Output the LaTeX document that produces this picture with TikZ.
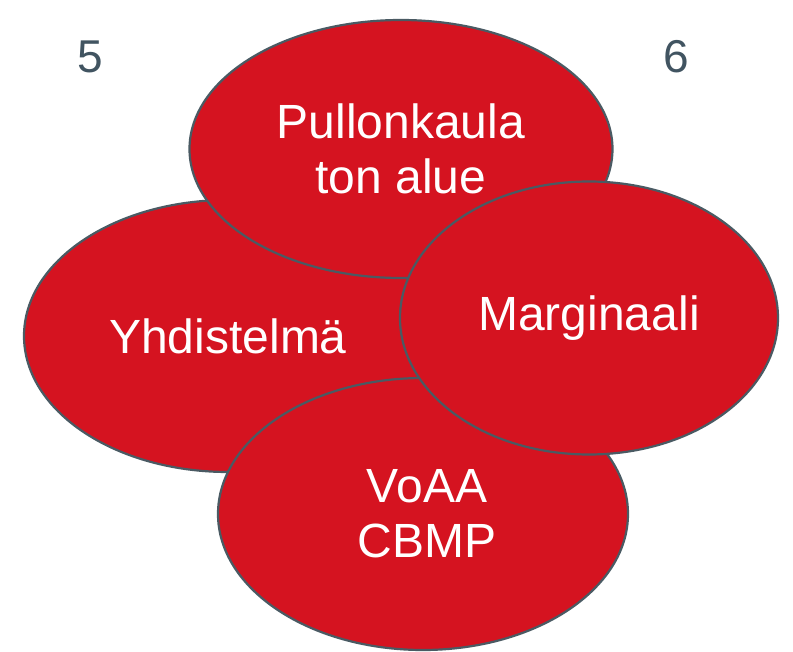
\documentclass[tikz,border=0pt]{standalone}
\usepackage{fontspec}
\setmainfont{Liberation Sans}
\usetikzlibrary{shapes.geometric}
\definecolor{bubblered}{HTML}{D51320}
\definecolor{bubbleline}{HTML}{4A5A63}
\definecolor{cornertext}{HTML}{415461}
\tikzset{
  bubble/.style = {
    ellipse,
    draw=bubbleline,
    fill=bubblered,
    line width=2.2pt,
    inner sep=0pt,
    align=center,
    text=white,
    font=\fontsize{48}{55}\selectfont
  },
  cornernum/.style = {
    text=cornertext,
    font=\fontsize{46}{55}\selectfont
  }
}

\begin{document}
\begin{tikzpicture}[x=1pt,y=-1pt]
    \useasboundingbox (0,0) rectangle (793,652);
    \node[bubble, minimum width=408pt, minimum height=272pt] (combo) at (228,336) {Yhdistelm\"a};
    \node[bubble, minimum width=423pt, minimum height=258pt] (bottleneck) at (401,149) {Pullonkaula\\ton alue};
    \node[bubble, minimum width=410pt, minimum height=272pt] (voaa) at (423,514) {\hspace*{8pt}VoAA\\\hspace*{8pt}CBMP};
    \node[bubble, minimum width=378pt, minimum height=273pt] (margin) at (589,318) {Marginaali};
    \node[cornernum] (five) at (90,57) {5};
    \node[cornernum] (six) at (676,57) {6};
\end{tikzpicture}
\end{document}
